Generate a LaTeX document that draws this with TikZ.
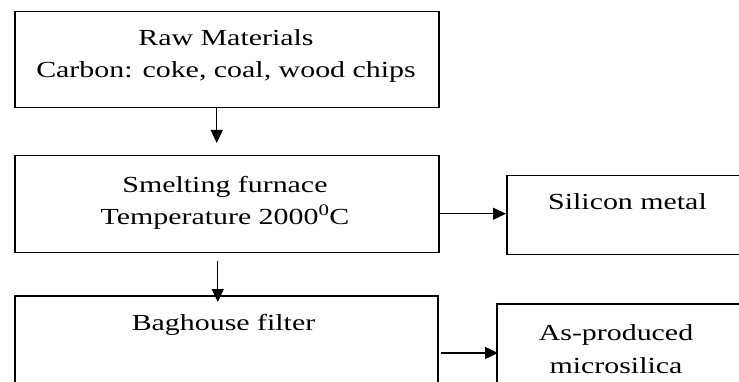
\documentclass[tikz,border=0pt]{standalone}
\usepackage{fontspec}
\setmainfont{Liberation Serif}[FakeStretch=1.3]
\usetikzlibrary{arrows.meta,positioning}

\begin{document}
\begin{tikzpicture}[x=1pt,y=-1pt,
        box/.style={draw, line width=1.5pt, inner sep=0pt, anchor=north west},
        txt/.style={anchor=base, align=center, inner sep=0pt, font=\fontsize{23}{32.5}\selectfont},
        arr/.style={-{Triangle[length=13pt,width=12pt]}, line width=1.4pt}]
        \useasboundingbox (0,0) rectangle (739,382);
        % boxes
            \foreach \n/\x/\y/\w/\h in {raw/14/11/424/96,smelt/14/155/424/97,silicon/506/175/260/79,bag/14/295/423/105,micro/496/303/260/97}{
                \node[box, minimum width=\w pt, minimum height=\h pt] (\n) at (\x,\y) {};
            }
        % labels (base = last line)
            \node[txt] (rawtxt) at (226,78) {Raw Materials\\Carbon: coke, coal, wood chips};
            \node[txt] (smelttxt) at (225,225) {Smelting furnace\\Temperature 2000\textsuperscript{0}C};
            \node[txt] (silicontxt) at (627.5,210) {Silicon metal};
            \node[txt] (bagtxt) at (223.5,330) {Baghouse filter};
            \node[txt] (microtxt) at (616,373) {As-produced\\microsilica};
        % flow
            \draw[arr] ([xshift=-10pt]raw.south) -- ([xshift=-10pt,yshift=12pt]smelt.north);
            \draw[arr] ([shift={(-9,7)}]smelt.south) -- ([shift={(-9,7)}]smelt.south |- bag.north);
            \draw[arr] ([yshift=-9.5pt]smelt.east) -- ([yshift=-9.5pt]smelt.east -| silicon.west);
            \draw[arr] ([shift={(2,58)}]bag.north east) -- ([shift={(2,58)}]bag.north east -| micro.west);
        \end{tikzpicture}
\end{document}
